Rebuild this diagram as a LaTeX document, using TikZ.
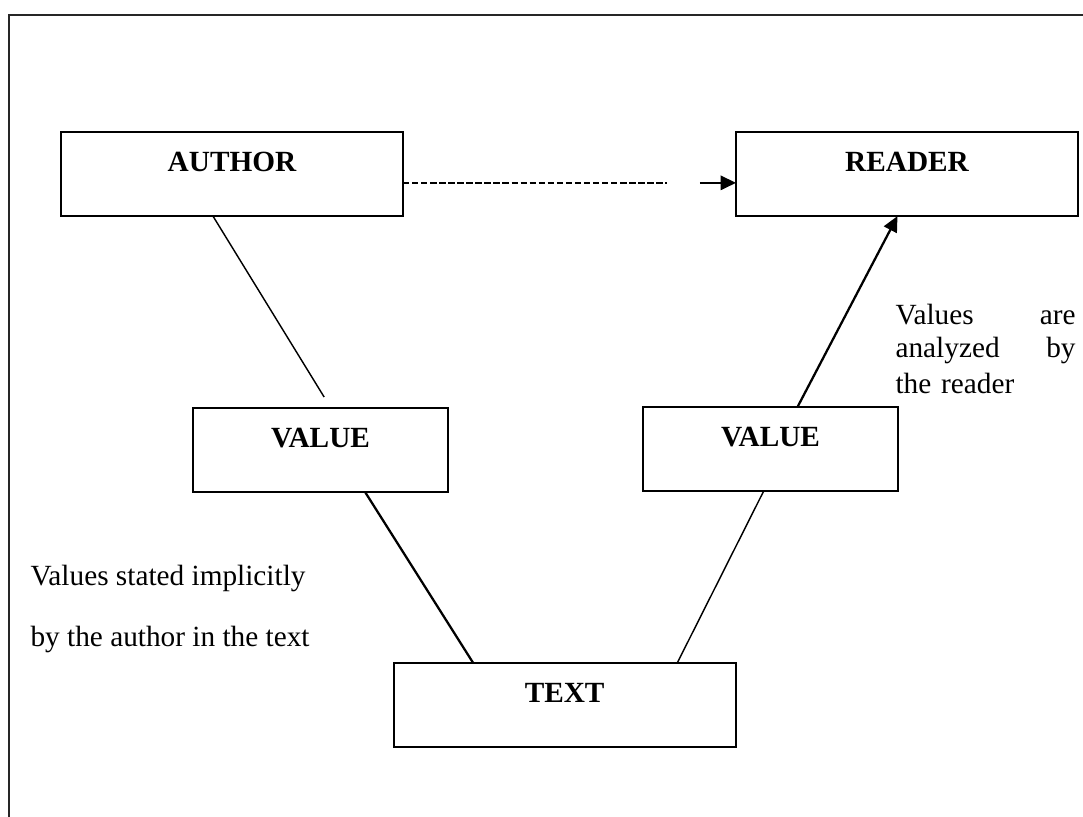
\documentclass[tikz,border=0pt]{standalone}
\usepackage{fontspec}
\setmainfont{Liberation Serif}
\usepackage{tikz}
\usetikzlibrary{arrows.meta, positioning}
\tikzstyle{wideblock} = [rectangle, draw, line width=0.8pt, outer sep=0pt, inner sep=0pt,
    minimum width=143.6pt, minimum height=35.3pt, text height=8pt, text depth=10.5pt,
    font=\fontsize{12.3}{14.8}\selectfont\bfseries]
\tikzstyle{valueblock} = [wideblock, minimum width=107pt]
\tikzstyle{thinline} = [draw, line width=0.6pt]
\tikzstyle{thickline} = [draw, line width=0.95pt]
\tikzstyle{dashline} = [draw, line width=1pt, dash pattern=on 2.7pt off 1.1pt]
\tikzstyle{arrowline} = [draw, line width=0.95pt, -{Triangle[length=6.5pt,width=6pt]}]
\tikzstyle{note} = [inner sep=0pt, font=\fontsize{12.3}{14.8}\selectfont]
\begin{document}
\begin{tikzpicture}
      \useasboundingbox (0,0) rectangle (454.86pt,-342.72pt);
      % Frame
      \draw [line width=0.9pt, black!85] (3.78pt,-360pt) -- (3.78pt,-6.3pt) -- (470pt,-6.3pt);
      % Boxes
      \node [wideblock] (author) at (97.44pt,-73.1pt) {AUTHOR};
      \node [wideblock, right=139.9pt of author] (reader) {READER};
      \node [valueblock, below=80.6pt of author, xshift=37.2pt] (valueL) {VALUE};
      \node [valueblock, below=80.2pt of reader, xshift=-57.3pt] (valueR) {VALUE};
      \node [wideblock, below=71.8pt of valueL, xshift=102.5pt] (textbox) {TEXT};
      % Notes
      \node [note, align=left, anchor=north west] (implicit) at ([xshift=-68.5pt, yshift=-30.6pt]valueL.south west)
        {Values stated implicitly\\[10.8pt]by the author in the text};
      \node [note, align=left, text width=75.6pt, below left=36.9pt and 0.8pt of reader.south east] (analyzed)
        {\fontsize{12.3}{13.9}\selectfont Values\hfill are\\analyzed\hfill by\\the reader};
      \coordinate [right=110.9pt of author.east, yshift=-3.7pt] (dashend);
      \coordinate [right=124.7pt of author.east, yshift=-3.7pt] (arrstart);
      % Draw edges
      \path [dashline] ([yshift=-3.7pt]author.east) -- (dashend);
      \path [arrowline] (arrstart) -- ([yshift=-3.7pt]reader.west);
      \path [thinline] ([xshift=-8pt]author.south) -- ([xshift=1.5pt, yshift=4.6pt]valueL.north);
      \path [thickline] ([xshift=18.7pt]valueL.south) -- ([xshift=-38.4pt]textbox.north);
      \path [thinline] ([xshift=47.3pt]textbox.north) -- ([xshift=-2.9pt]valueR.south);
      \path [arrowline] ([xshift=11.3pt]valueR.north) -- ([xshift=-4pt]reader.south);
    \end{tikzpicture}
\end{document}
